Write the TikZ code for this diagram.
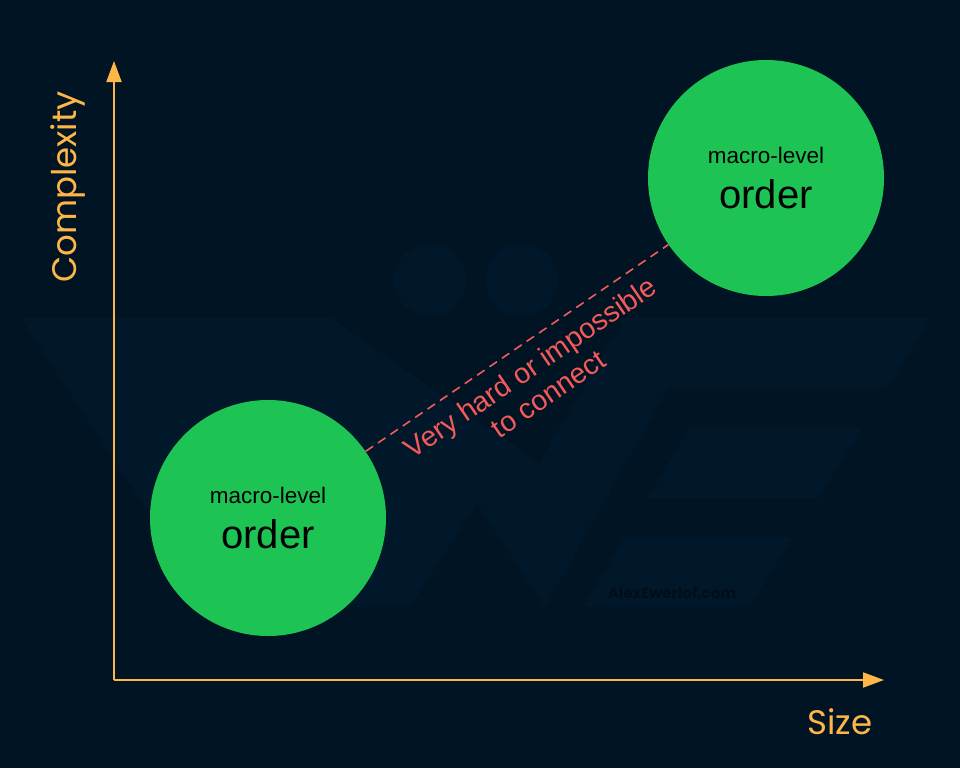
\documentclass[tikz,border=0pt]{standalone}
\usepackage{fontspec}
\setmainfont{Liberation Sans}
\newfontfamily\axisfont{Poppins}
\usetikzlibrary{arrows.meta,positioning}
\definecolor{bgcol}{RGB}{0,20,36}
\definecolor{markcol}{RGB}{0,24,42}
\definecolor{marktext}{RGB}{0,14,26}
\definecolor{axiscol}{RGB}{255,182,72}
\definecolor{blobcol}{RGB}{29,196,84}
\definecolor{gapcol}{RGB}{245,90,90}

\begin{document}
\begin{tikzpicture}[
  x=1pt, y=-1pt,
  >={Triangle[length=21pt,width=15pt]},
  ax/.style={->, draw=axiscol, line width=2pt},
  axlabel/.style={text=axiscol, font=\axisfont\fontsize{34}{40}\selectfont, inner sep=0pt},
  blob/.style={circle, fill=blobcol, minimum size=236pt, inner sep=0pt, align=center,
    font=\fontsize{22.5}{45}\selectfont},
  gap/.style={draw=gapcol, line width=1.6pt, dash pattern=on 9pt off 6pt},
  gaplabel/.style={text=gapcol, align=center, font=\fontsize{28.5}{32}\selectfont, inner sep=12pt},
  wm/.style={fill=markcol},
]
\useasboundingbox[fill=bgcol] (0,0) rectangle (960,768);
% faint logo in the background
\fill[wm] (430,280) circle (36) (522,280) circle (36);
\fill[wm] (21,318) -- (331,318) -- (539,463) -- (625,318) -- (931,318) -- (887,388)
  -- (668,388) -- (545,607) -- (477,503) -- (410,607) -- (210,607) -- cycle;
\fill[wm] (690,427) -- (863,427) -- (818,498) -- (648,498) -- cycle;
\fill[wm] (625,537) -- (793,537) -- (750,607) -- (583,607) -- cycle;
\node[text=marktext, font=\axisfont\bfseries\fontsize{15}{18}\selectfont] (mark) at (672,593) {AlexEwerlof.com};

\coordinate (origin) at (114,680);
\coordinate (ytip) at (114,61);
\coordinate (xtip) at (884,680);
\draw[ax] (origin) -- (ytip);
\draw[ax] (origin) -- (xtip);
\node[axlabel, rotate=90] (ylab) at (68,187) {Complexity};
\node[axlabel] (xlab) at (840,722) {Size};

\node[blob] (lo) at (268,518) {macro-level\\{\fontsize{40}{45}\selectfont order}};
\node[blob] (hi) at (766,178) {macro-level\\{\fontsize{40}{45}\selectfont order}};
\draw[gap] (lo) -- node[sloped, below, gaplabel] {Very hard or impossible\\to connect} (hi);
\end{tikzpicture}
\end{document}
